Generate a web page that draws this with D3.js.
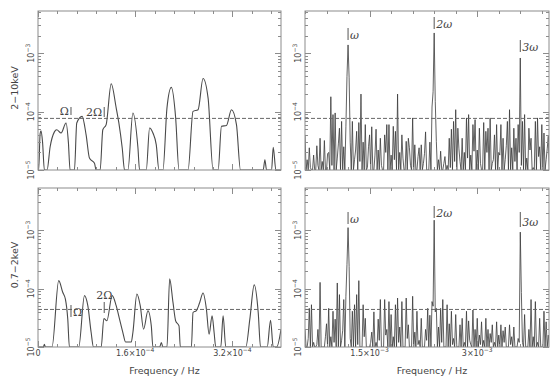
<!DOCTYPE html>
<html lang="en">
<head>
<meta charset="utf-8">
<title>Power spectra</title>
<style>
  body { margin: 0; background: #fff; }
  svg { display: block; font-family: "DejaVu Sans", sans-serif; }
  .frame { fill: none; stroke: #8c8c8c; stroke-width: 1px; }
  .tk { stroke: #8c8c8c; stroke-width: 1px; }
  .curve { fill: none; stroke: #4a4a4a; stroke-width: 1.1px; }
  .spikes { fill: none; stroke: #3a3a3a; stroke-width: 0.8px; }
  .thresh { stroke: #666; stroke-width: 1px; stroke-dasharray: 4px 2px; }
  .lbl { fill: #444; font-size: 8px; }
  .title { fill: #444; font-size: 9.5px; }
  .harm { fill: #444; font-family: "DejaVu Serif", serif; font-size: 11px; }
  .mk { stroke: #555; stroke-width: 1px; }
</style>
</head>
<body>
<svg width="550" height="377"></svg>
<script src="https://d3js.org/d3.v7.min.js"></script>
<script>

// ---- data ----
// low frequency spectra: frequency in units of 1e-4 Hz
var hardLowFreq = [0, 0.011, 0.035, 0.05, 0.075, 0.105, 0.149, 0.2, 0.27, 0.308, 0.38, 0.462, 0.5, 0.528,
    0.6, 0.638, 0.726, 0.792, 0.847, 0.93, 0.957, 1.023, 1.067, 1.122, 1.205, 1.287, 1.331, 1.386, 1.425,
    1.48, 1.562, 1.645, 1.672, 1.782, 1.837, 1.892, 1.947, 1.991, 2.057, 2.123, 2.195, 2.266, 2.321,
    2.47, 2.552, 2.635, 2.717, 2.8, 2.882, 2.965, 3.02, 3.102, 3.185, 3.267, 3.333,
    3.707, 3.735, 3.762, 3.845, 3.872, 3.916, 4.0];
var hardLowPow = [6e-6, 1e-5, 4.2e-5, 4.7e-5, 3.0e-5, 8e-6, 8e-6, 2.5e-5, 4.5e-5, 4.9e-5, 4.3e-5, 6.4e-5, 3.0e-5, 8e-6,
    8e-6, 6.4e-5, 8.3e-5, 4.0e-5, 1.6e-5, 1.3e-5, 8e-6, 8e-6, 4.9e-5, 6.0e-5, 3.0e-4, 1.16e-4, 6.4e-5, 2.4e-5, 8e-6,
    8e-6, 9.5e-5, 2.4e-5, 8e-6, 8e-6, 5.25e-5, 4.3e-5, 2.7e-5, 8e-6, 8e-6, 1.16e-4, 2.6e-4, 7.8e-5, 8e-6,
    8e-6, 1.01e-4, 1.08e-4, 3.7e-4, 1.7e-4, 8e-6, 8e-6, 5.6e-5, 5.8e-5, 1.08e-4, 6.0e-5, 8e-6,
    8e-6, 1.5e-5, 8e-6, 8e-6, 2.45e-5, 8e-6, 8e-6];

var softLowFreq = [0, 0.088, 0.105, 0.121, 0.231, 0.341, 0.407, 0.451, 0.49, 0.517, 0.671, 0.765, 0.82, 0.875, 0.913,
    1.04, 1.084, 1.133, 1.221, 1.287, 1.342, 1.397, 1.441, 1.535, 1.562, 1.628, 1.683, 1.738, 1.81, 1.865, 1.892,
    2.002, 2.03, 2.057, 2.123, 2.167, 2.222, 2.266, 2.321, 2.343,
    2.525, 2.552, 2.607, 2.662, 2.717, 2.772, 2.816, 2.866, 2.899, 2.926,
    3.009, 3.047, 3.091, 3.421, 3.487, 3.559, 3.625, 3.663, 3.773, 3.828, 3.872, 3.93, 4.0];
var softLowPow = [8e-6, 8e-6, 1.11e-5, 8e-6, 8e-6, 1.37e-4, 8.65e-5, 6.6e-5, 3.0e-5, 8e-6, 8e-6, 7.6e-5, 5.1e-5, 1.77e-5, 8e-6,
    8e-6, 3.08e-5, 2.81e-5, 7.6e-5, 5.1e-5, 3.0e-5, 1.77e-5, 1.22e-5, 1.22e-5, 1.77e-5, 8.1e-5, 5.1e-5, 2.02e-5, 4.18e-5, 2.3e-5, 8e-6,
    8e-6, 1.19e-5, 8e-6, 8e-6, 1.47e-4, 5.8e-5, 2.81e-5, 2.3e-5, 8e-6,
    8e-6, 3.9e-5, 4.2e-5, 5.8e-5, 8.4e-5, 4.46e-5, 1.65e-5, 3.42e-5, 1.77e-5, 8e-6,
    8e-6, 3.42e-5, 8e-6, 8e-6, 3.0e-5, 1.16e-4, 3.9e-5, 8e-6, 8e-6, 2.88e-5, 8e-6, 8e-6, 2.0e-5];

// high frequency periodograms, power in units of 1e-5, bins of 1.5e-5 Hz from 6e-4 Hz
var hiStart = 6e-4, hiStep = 1.5e-5;
var hardHighPow = [
    4.0, 0.6, 1.5, 0.4, 2.4, 1.1, 0.6, 0.3, 1.8, 0.5, 0.5, 2.6, 1.2, 0.4, 3.5, 0.8, 1.4, 0.3, 3.2, 0.7,
    0.8, 1.9, 2.0, 0.5, 18, 1.2, 8.9, 0.6, 9.5, 0.4, 1.6, 2.8, 5.2, 0.7, 6.8, 1.0, 2.5, 0.4, 5.5, 40,
    139, 38, 3.0, 0.8, 6.8, 0.5, 1.5, 2.2, 4.6, 0.6, 6.5, 1.4, 20, 0.5, 3.0, 0.9, 6.0, 0.4, 1.1, 2.5,
    4.0, 0.7, 5.5, 0.3, 0.7, 1.8, 5.0, 0.6, 2.2, 0.4, 3.5, 1.2, 1.0, 0.5, 4.0, 2.0, 6.0, 0.6, 6.0, 0.9,
    1.8, 0.4, 5.6, 1.5, 4.6, 0.5, 20, 0.8, 2.0, 0.3, 4.0, 1.6, 0.9, 0.5, 3.1, 0.7, 3.5, 2.4, 1.2, 0.4,
    7.8, 0.9, 2.7, 0.5, 0.8, 1.7, 2.4, 0.4, 2.7, 0.6, 1.3, 1.9, 4.5, 0.5, 1.0, 0.8, 3.0, 0.4, 12, 22,
    223, 15, 3.1, 0.5, 1.5, 0.9, 2.1, 0.4, 0.7, 1.3, 1.7, 0.5, 1.2, 0.3, 3.5, 1.1, 5.0, 0.6, 6.8, 1.4,
    10.8, 0.7, 5.2, 2.3, 1.4, 0.4, 3.5, 0.9, 2.0, 0.5, 7.8, 1.6, 8.9, 0.6, 1.8, 0.4, 6.0, 2.1, 7.3, 0.8,
    2.2, 0.5, 5.2, 1.3, 1.0, 0.4, 6.5, 0.9, 4.6, 2.0, 5.2, 0.6, 7.8, 0.4, 1.3, 1.5, 4.0, 0.7, 6.0, 0.5,
    2.0, 1.8, 6.0, 0.6, 3.5, 0.4, 1.5, 2.6, 6.8, 0.5, 10.8, 0.9, 2.4, 0.4, 5.2, 1.4, 3.5, 0.6, 6.0, 2.0,
    83, 1.2, 6.8, 0.5, 8.9, 0.8, 1.6, 0.4, 5.2, 2.2, 3.5, 0.6, 1.1, 0.9, 6.8, 0.5, 7.8, 1.7, 2.5, 0.4,
    6.0, 1.0, 4.3, 0.6, 1.5, 2.3, 3.8, 0.7];
var softHighPow = [
    2.0, 0.5, 0.7, 1.4, 4.6, 0.4, 5.3, 0.8, 1.2, 0.3, 0.5, 1.1, 2.0, 0.4, 12.8, 0.6, 1.0, 0.3, 0.6, 1.5,
    2.5, 0.4, 4.6, 0.9, 1.5, 0.3, 4.1, 1.2, 3.0, 0.5, 12.5, 0.7, 7.9, 0.4, 1.3, 1.9, 6.5, 0.5, 7.4, 26,
    111, 24, 1.4, 0.5, 4.1, 0.8, 5.3, 0.4, 7.9, 1.1, 13.7, 0.6, 1.0, 0.3, 5.3, 1.5, 3.1, 0.5, 0.6, 0.4,
    0.6, 1.2, 1.8, 0.4, 4.0, 0.7, 1.2, 0.3, 3.0, 1.3, 6.5, 0.5, 0.8, 0.4, 6.5, 1.6, 2.0, 0.5, 6.0, 0.8,
    3.6, 0.4, 1.5, 1.0, 5.3, 0.5, 6.9, 1.2, 2.2, 0.4, 6.0, 0.8, 1.0, 0.5, 6.9, 1.4, 2.4, 0.4, 0.7, 0.9,
    7.4, 0.5, 1.8, 0.3, 4.1, 1.1, 1.3, 0.4, 3.1, 0.7, 0.9, 0.4, 2.0, 1.3, 4.6, 0.5, 3.5, 1.0, 6.0, 5.0,
    149, 4.0, 4.6, 0.6, 2.2, 0.4, 4.6, 1.2, 6.5, 0.5, 1.0, 0.3, 5.3, 0.9, 2.5, 0.4, 4.1, 1.1, 1.4, 0.5,
    3.6, 0.7, 0.8, 0.4, 2.4, 1.0, 3.1, 0.5, 1.2, 0.9, 4.1, 0.6, 2.8, 1.3, 1.1, 0.4, 4.3, 0.8, 2.0, 0.6,
    3.1, 0.7, 1.6, 1.1, 2.7, 0.5, 1.3, 1.0, 3.1, 0.8, 2.0, 0.6, 1.7, 1.2, 2.4, 0.5, 1.2, 0.9, 2.7, 0.6,
    1.6, 1.0, 2.4, 0.6, 1.9, 1.2, 2.2, 0.7, 1.0, 0.5, 2.4, 1.1, 1.5, 0.6, 2.2, 0.9, 0.8, 0.4, 1.4, 1.2,
    93, 8.6, 1.2, 0.5, 3.6, 0.4, 0.9, 0.3, 2.0, 1.0, 6.5, 0.5, 1.5, 0.7, 6.0, 0.4, 1.2, 0.9, 3.1, 0.5,
    0.9, 0.4, 4.1, 0.8, 2.7, 0.5, 1.6, 0.4];

var thresholds = [7.66e-5, 4.4e-5];          // hard, soft
var bandNames = ["2\u221210keV", "0.7\u22122keV"];
var yTickVals = [1e-5, 1e-4, 1e-3];
var yTickExp = ["\u22125", "\u22124", "\u22123"];
var lowTickVals = [0, 1.6e-4, 3.2e-4];
var lowTickText = [["0", ""], ["1.6\u00d710", "\u22124"], ["3.2\u00d710", "\u22124"]];
var highTickVals = [1.5e-3, 3e-3];
var highTickText = [["1.5\u00d710", "\u22123"], ["3\u00d710", "\u22123"]];
var orbit = [0.543e-4, 1.09e-4];              // Omega, 2 Omega
var spin = [1.2e-3, 2.4e-3, 3.6e-3];          // omega, 2, 3 omega

// ---- layout ----
var svg = d3.select("svg");
var panels = [
    {x0: 38, x1: 281, y0: 11, y1: 170, low: true, band: 0},
    {x0: 305, x1: 549, y0: 11, y1: 170, low: false, band: 0},
    {x0: 38, x1: 281, y0: 188, y1: 347, low: true, band: 1},
    {x0: 305, x1: 549, y0: 188, y1: 347, low: false, band: 1}
];

panels.forEach(function(p, k) {
    var x = p.low ? d3.scaleLinear().domain([0, 4e-4]).range([p.x0, p.x1])
                  : d3.scaleLinear().domain([6e-4, 4e-3]).range([p.x0, p.x1]);
    var y = d3.scaleLog().domain([1e-5, 5.3e-3]).range([p.y1, p.y0]).clamp(true);

    var g = svg.append("g");
    g.append("clipPath").attr("id", "clip" + k)
     .append("rect").attr("x", p.x0).attr("y", p.y0).attr("width", p.x1 - p.x0).attr("height", p.y1 - p.y0);

    // data
    var pts;
    if (p.low) {
        var fr = p.band == 0 ? hardLowFreq : softLowFreq;
        var pw = p.band == 0 ? hardLowPow : softLowPow;
        pts = fr.map(function(f, i) { return [f * 1e-4, pw[i]]; });
        g.append("path").attr("class", "curve").attr("clip-path", "url(#clip" + k + ")")
         .attr("d", d3.line().x(function(d) { return x(d[0]); }).y(function(d) { return y(d[1]); })
                    .curve(d3.curveMonotoneX)(pts));
    } else {
        var hp = p.band == 0 ? hardHighPow : softHighPow;
        pts = hp.map(function(v, i) { return [hiStart + i * hiStep, v * 1e-5]; });
        g.append("path").attr("class", "spikes").attr("clip-path", "url(#clip" + k + ")")
         .attr("d", d3.line().x(function(d) { return x(d[0]); }).y(function(d) { return y(d[1]); })(pts));
    }

    // threshold
    g.append("line").attr("class", "thresh")
     .attr("x1", p.x0).attr("x2", p.x1)
     .attr("y1", y(thresholds[p.band])).attr("y2", y(thresholds[p.band]));

    // frame
    g.append("rect").attr("class", "frame")
     .attr("x", p.x0).attr("y", p.y0).attr("width", p.x1 - p.x0).attr("height", p.y1 - p.y0);

    // y ticks (log, inward, both sides)
    var yt = [];
    [1e-5, 1e-4, 1e-3].forEach(function(dec) {
        for (var m = 1; m <= 9; m++) if (dec * m <= 5.3e-3) yt.push([dec * m, m == 1]);
    });
    yt.forEach(function(t) {
        var len = t[1] ? 6 : 3, yy = Math.round(y(t[0])) + 0.5;
        g.append("line").attr("class", "tk").attr("x1", p.x0).attr("x2", p.x0 + len).attr("y1", yy).attr("y2", yy);
        g.append("line").attr("class", "tk").attr("x1", p.x1).attr("x2", p.x1 - len).attr("y1", yy).attr("y2", yy);
    });

    // x ticks
    var xt = p.low ? d3.range(13).map(function(i) { return [i * 3.2e-5, i % 5 == 0]; })
                   : d3.range(12).map(function(i) { return [6e-4 + i * 3e-4, i == 3 || i == 8]; });
    xt.forEach(function(t) {
        var len = t[1] ? 6 : 3, xx = Math.round(x(t[0])) + 0.5;
        g.append("line").attr("class", "tk").attr("x1", xx).attr("x2", xx).attr("y1", p.y0).attr("y2", p.y0 + len);
        g.append("line").attr("class", "tk").attr("x1", xx).attr("x2", xx).attr("y1", p.y1).attr("y2", p.y1 - len);
    });

    // y tick labels
    yTickVals.forEach(function(v, i) {
        var t = g.append("text").attr("class", "lbl")
            .attr("transform", "translate(" + (p.x0 - 4) + "," + y(v) + ") rotate(-90)")
            .attr("text-anchor", "middle");
        t.append("tspan").text("10");
        t.append("tspan").attr("dy", -4).attr("font-size", "6px").text(yTickExp[i]);
    });

    // band title
    if (p.low) {
        g.append("text").attr("class", "title")
         .attr("transform", "translate(18," + (p.y0 + 77) + ") rotate(-90)")
         .attr("text-anchor", "middle").text(bandNames[p.band]);
    }

    // x tick labels + axis title on bottom row
    if (p.band == 1) {
        var vals = p.low ? lowTickVals : highTickVals;
        var txt = p.low ? lowTickText : highTickText;
        vals.forEach(function(v, i) {
            var t = g.append("text").attr("class", "lbl").attr("x", x(v)).attr("y", 356)
                .attr("text-anchor", "middle");
            t.append("tspan").text(txt[i][0]);
            t.append("tspan").attr("dy", -4).attr("font-size", "6px").text(txt[i][1]);
        });
        g.append("text").attr("class", "title").attr("font-size", "10px")
         .attr("x", (p.x0 + p.x1) / 2 + 5).attr("y", 373.5).attr("text-anchor", "middle")
         .text("Frequency  /  Hz");
    }

    // harmonic markers
    if (p.low) {
        var xa = x(orbit[0]), xb = x(orbit[1]);
        if (p.band == 0) {
            g.append("line").attr("class", "mk").attr("x1", xa).attr("x2", xa).attr("y1", p.y0 + 96).attr("y2", p.y0 + 104);
            g.append("text").attr("class", "harm").attr("x", xa - 2).attr("y", p.y0 + 104).attr("text-anchor", "end").text("\u03a9");
            g.append("line").attr("class", "mk").attr("x1", xb).attr("x2", xb).attr("y1", p.y0 + 96).attr("y2", p.y0 + 106);
            g.append("text").attr("class", "harm").attr("x", xb - 2).attr("y", p.y0 + 105).attr("text-anchor", "end").text("2\u03a9");
        } else {
            g.append("line").attr("class", "mk").attr("x1", xa).attr("x2", xa).attr("y1", p.y0 + 117).attr("y2", p.y0 + 129);
            g.append("text").attr("class", "harm").attr("x", xa + 2).attr("y", p.y0 + 128).text("\u03a9");
            g.append("line").attr("class", "mk").attr("x1", xb).attr("x2", xb).attr("y1", p.y0 + 114).attr("y2", p.y0 + 125);
            g.append("text").attr("class", "harm").attr("x", xb).attr("y", p.y0 + 111).attr("text-anchor", "middle").text("2\u03a9");
        }
    } else {
        var spans = p.band == 0 ? [[17, 29], [6, 18], [29, 41]] : [[24, 36], [18, 30], [24, 39]];
        var names = ["\u03c9", "2\u03c9", "3\u03c9"];
        spin.forEach(function(f, i) {
            var xx = x(f);
            g.append("line").attr("class", "mk").attr("x1", xx).attr("x2", xx)
             .attr("y1", p.y0 + spans[i][0]).attr("y2", p.y0 + spans[i][1]);
            g.append("text").attr("class", "harm").attr("x", xx + 2).attr("y", p.y0 + spans[i][1] - 1)
             .attr("font-style", "italic").text(names[i]);
        });
    }
});

</script>
</body>
</html>
